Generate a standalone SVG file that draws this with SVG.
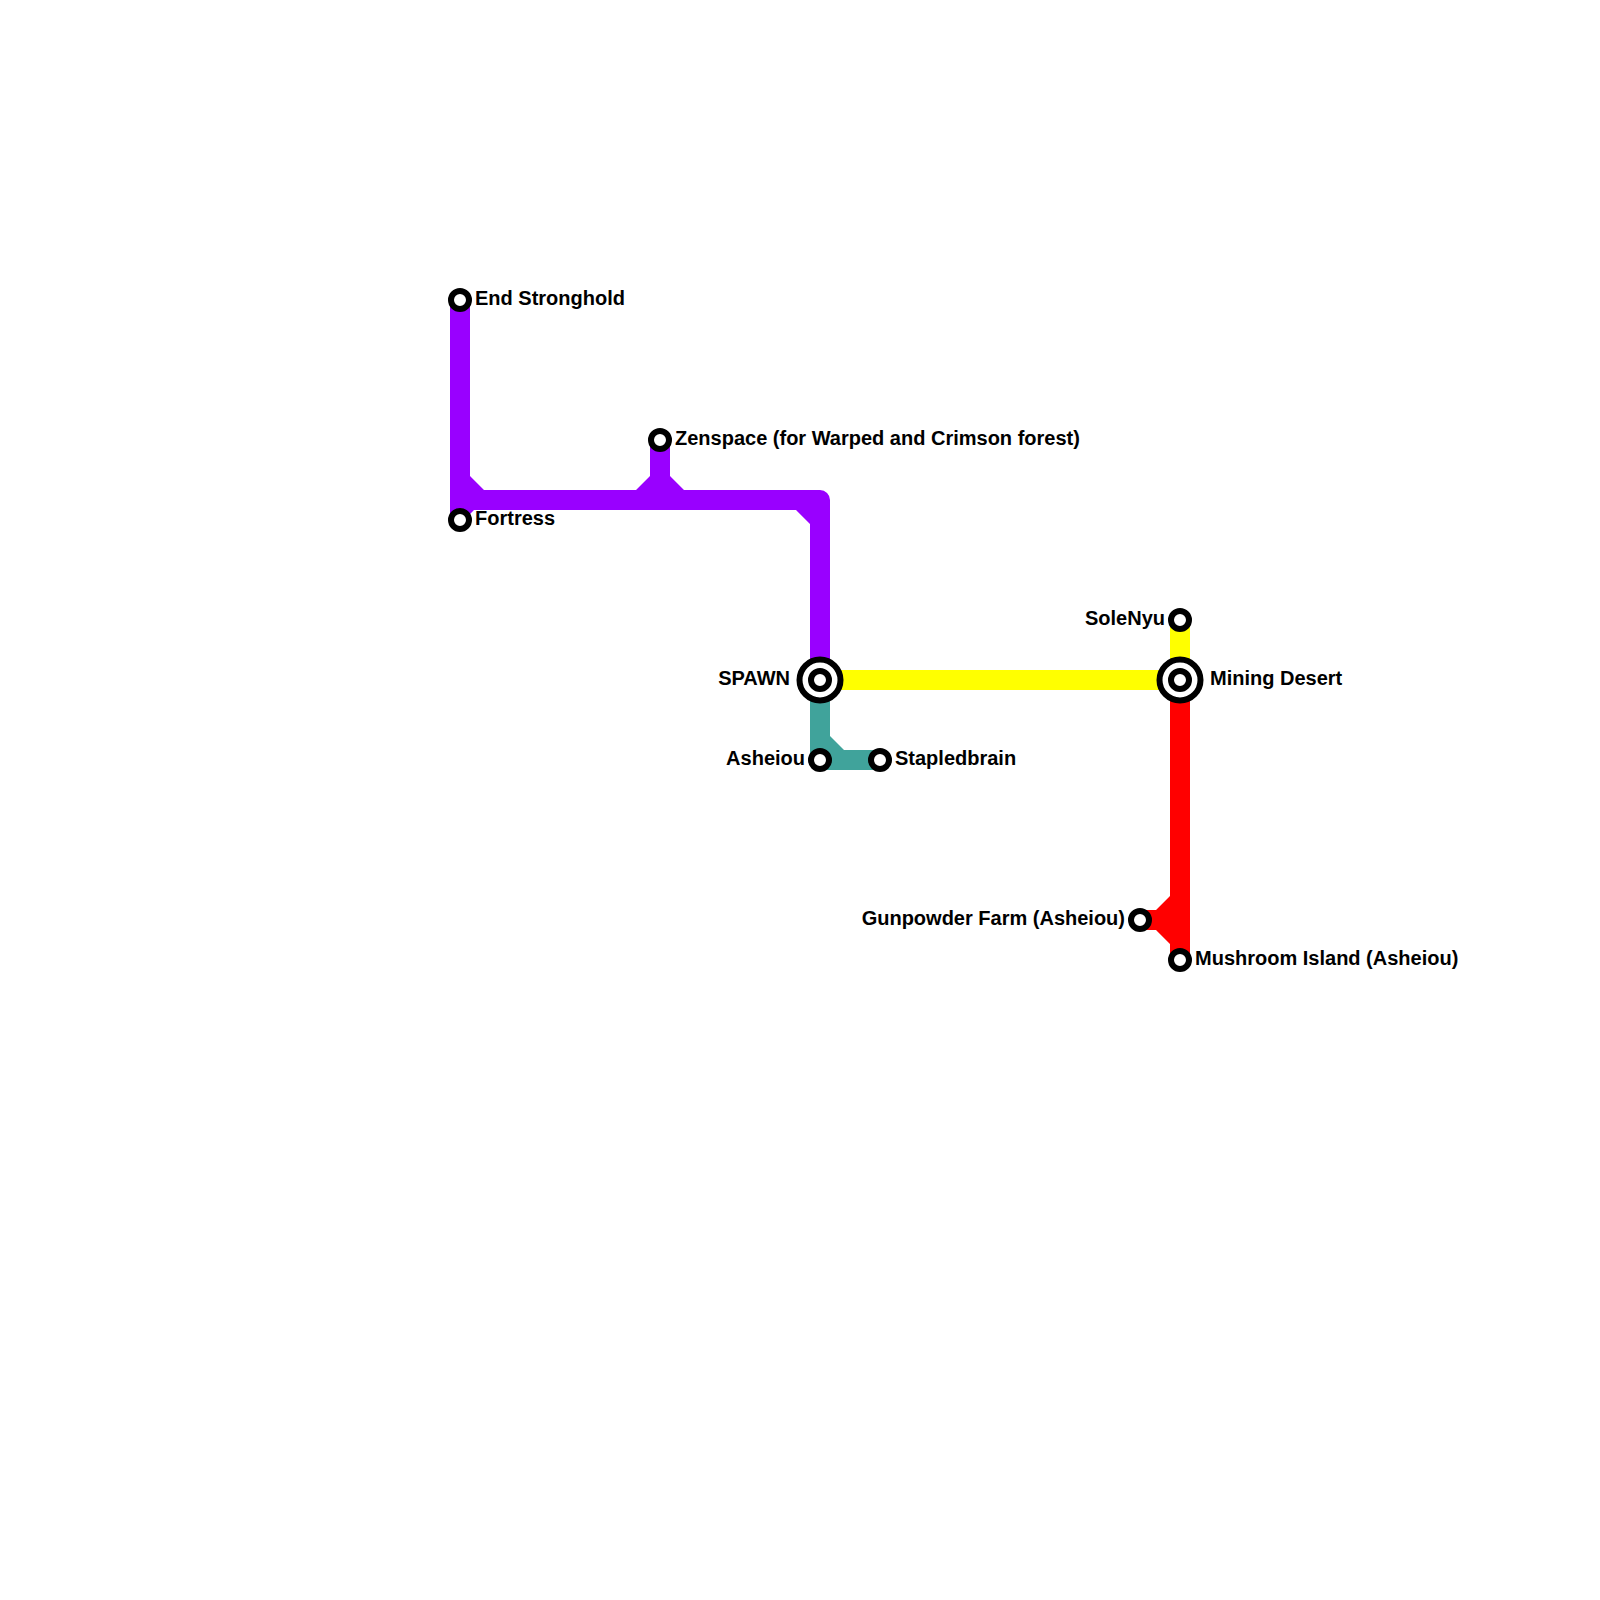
<svg xmlns="http://www.w3.org/2000/svg" width="1600" height="1600" viewBox="0 0 1600 1600">
<style>
.l{fill:none;stroke-width:20;stroke-linejoin:round}
.st{fill:#fff;stroke:#000;stroke-width:6}
.t{font-family:"Liberation Sans",Arial,sans-serif;font-weight:700;font-size:20px;fill:#000}
.e{text-anchor:end}
</style>
<rect width="1600" height="1600" fill="#fff"/>
<g id="connectors">
<g id="line-purple">
<path class="l" stroke="#9900ff" d="M460 300V520M460 500H820V680M660 440V500"/>
<path fill="#9900ff" d="M470 476L484 490H470ZM650 476L636 490H650ZM670 476L684 490H670ZM796 510L810 524V510ZM470 510H474L460 524V510Z"/>
</g>
<g id="line-yellow">
<path class="l" stroke="#ffff00" d="M820 680H1180V620"/>
</g>
<g id="line-teal">
<path class="l" stroke="#40a39b" d="M820 680V760H880"/>
<path fill="#40a39b" d="M830 736L844 750H830Z"/>
</g>
<g id="line-red">
<path class="l" stroke="#ff0000" d="M1180 680V960M1140 920H1180"/>
<path fill="#ff0000" d="M1170 896L1156 910H1170ZM1156 930L1170 944V930Z"/>
</g>
</g>
<g id="end-stronghold"><circle class="st" cx="460" cy="300" r="9"/><text class="t" x="475" y="305">End Stronghold</text></g>
<g id="fortress"><circle class="st" cx="460" cy="520" r="9"/><text class="t" x="475" y="525">Fortress</text></g>
<g id="zenspace"><circle class="st" cx="660" cy="440" r="9"/><text class="t" x="675" y="445">Zenspace (for Warped and Crimson forest)</text></g>
<g id="spawn"><circle class="st" cx="820" cy="680" r="20.5"/><circle class="st" cx="820" cy="680" r="9"/><text class="t e" x="790" y="685">SPAWN</text></g>
<g id="asheiou"><circle class="st" cx="820" cy="760" r="9"/><text class="t e" x="805" y="765">Asheiou</text></g>
<g id="stapledbrain"><circle class="st" cx="880" cy="760" r="9"/><text class="t" x="895" y="765">Stapledbrain</text></g>
<g id="solenyu"><circle class="st" cx="1180" cy="620" r="9"/><text class="t e" x="1165" y="625">SoleNyu</text></g>
<g id="mining-desert"><circle class="st" cx="1180" cy="680" r="20.5"/><circle class="st" cx="1180" cy="680" r="9"/><text class="t" x="1210" y="685">Mining Desert</text></g>
<g id="gunpowder-farm"><circle class="st" cx="1140" cy="920" r="9"/><text class="t e" x="1125" y="925">Gunpowder Farm (Asheiou)</text></g>
<g id="mushroom-island"><circle class="st" cx="1180" cy="960" r="9"/><text class="t" x="1195" y="965">Mushroom Island (Asheiou)</text></g>
</svg>
